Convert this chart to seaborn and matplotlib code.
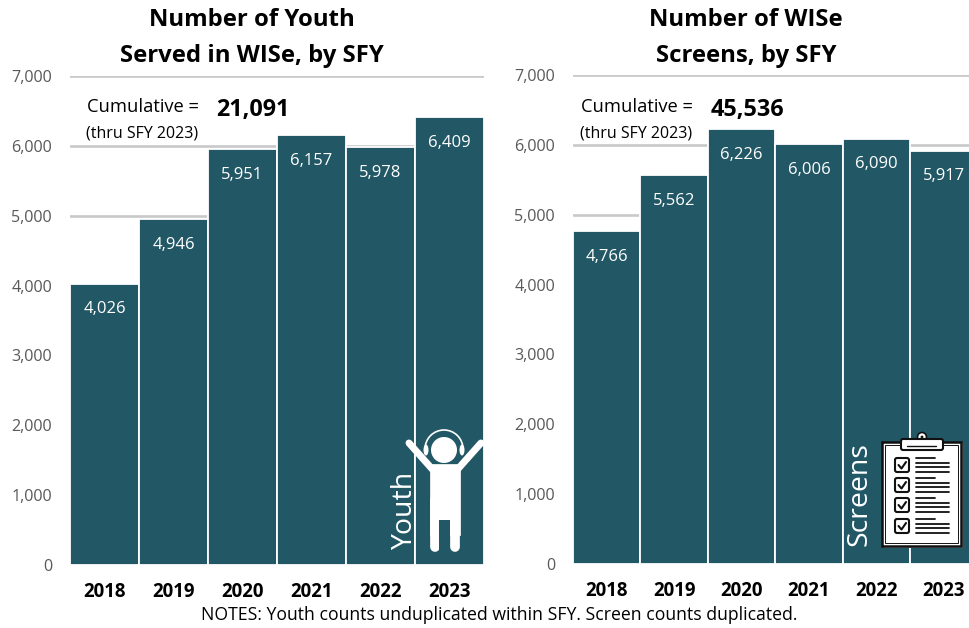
import matplotlib
matplotlib.use("Agg")
import matplotlib.pyplot as plt
import seaborn as sns
import pandas as pd
from matplotlib.patches import Rectangle, Circle, Arc, FancyBboxPatch, Polygon, Ellipse
from matplotlib.lines import Line2D

years = ["2018", "2019", "2020", "2021", "2022", "2023"]
youth = [4026, 4946, 5951, 6157, 5978, 6409]
screens = [4766, 5562, 6226, 6006, 6090, 5917]
yticks = [0, 1000, 2000, 3000, 4000, 5000, 6000, 7000]
title_left = "Number of Youth\nServed in WISe, by SFY"
title_right = "Number of WISe\nScreens, by SFY"
total_left = "21,091"
total_right = "45,536"
note = "NOTES: Youth counts unduplicated within SFY. Screen counts duplicated."

W, H = 969, 628
BAR = "#225866"
GRID = "#c9c9c9"
sns.set_theme(style="white")
plt.rcParams["font.family"] = ["Open Sans", "DejaVu Sans"]

fig = plt.figure(figsize=(W / 100, H / 100), dpi=100, facecolor="white")


def panel(x0, x1, y7, y0, values):
    ax = fig.add_axes([x0 / W, 1 - y0 / H, (x1 - x0) / W, (y0 - y7) / H])
    df = pd.DataFrame({"year": years, "value": values})
    sns.barplot(data=df, x="year", y="value", color=BAR, saturation=1, width=1,
                edgecolor="white", linewidth=1.3, ax=ax, zorder=3)
    ax.set_xlim(-0.5, 5.5)
    ax.set_ylim(0, 7000)
    ax.set_yticks(yticks, [f"{v:,}" for v in yticks], fontsize=11.6, color="#595959")
    ax.set_xlabel("")
    ax.set_ylabel("")
    ax.yaxis.grid(True, color=GRID, lw=1.9, zorder=0)
    ax.set_axisbelow(True)
    for s in ax.spines.values():
        s.set_visible(False)
    ax.tick_params(axis="y", length=0, pad=13)
    ax.tick_params(axis="x", length=0, pad=12)
    for lb in ax.get_xticklabels():
        lb.set_fontweight("bold")
        lb.set_fontsize(13.4)
        lb.set_color("black")
    for i, v in enumerate(values):
        ax.annotate(f"{v:,}", (i, v), xytext=(0, -18.5), textcoords="offset points",
                    ha="center", va="center", color="white", fontsize=12, zorder=5)
    return ax


panel(70, 484, 76, 565, youth)
panel(573, 573 + 6 * 67.4, 75, 564, screens)

ov = fig.add_axes([0, 0, 1, 1], facecolor="none")
ov.set_xlim(0, W)
ov.set_ylim(H, 0)
ov.axis("off")

# titles, cumulative notes, footer
ov.text(252, 38, title_left, ha="center", va="center", fontsize=17.2, fontweight="bold",
        color="black", linespacing=1.62)
ov.text(746, 38, title_right, ha="center", va="center", fontsize=17.2, fontweight="bold",
        color="black", linespacing=1.62)
ov.text(143, 107, "Cumulative =", ha="center", va="center", fontsize=13.2, color="black")
ov.text(142, 133, "(thru SFY 2023)", ha="center", va="center", fontsize=11.5, color="black")
ov.text(253, 110, total_left, ha="center", va="center", fontsize=16.8, fontweight="bold", color="black")
ov.text(637, 107, "Cumulative =", ha="center", va="center", fontsize=13.2, color="black")
ov.text(636, 133, "(thru SFY 2023)", ha="center", va="center", fontsize=11.5, color="black")
ov.text(747, 110, total_right, ha="center", va="center", fontsize=16.8, fontweight="bold", color="black")
ov.text(499, 615, note, ha="center", va="center", fontsize=12.7, color="black")

# rotated icon captions
ov.text(405, 550, "Youth", rotation=90, ha="center", va="bottom", fontsize=20.5, color="white", zorder=6)
ov.text(860, 546, "Screens", rotation=90, ha="center", va="bottom", fontsize=20.5, color="white", zorder=6)

# person icon
w = "white"
ov.add_line(Line2D([409, 433], [443, 470], color=w, lw=5, solid_capstyle="round", zorder=6))
ov.add_line(Line2D([481, 457], [443, 470], color=w, lw=5, solid_capstyle="round", zorder=6))
ov.add_patch(Polygon([(430, 464), (460, 464), (460, 535), (430, 535)], fc=w, ec=w, lw=0.5, zorder=6))
ov.add_line(Line2D([435, 435], [500, 547], color=w, lw=7, solid_capstyle="round", zorder=6))
ov.add_line(Line2D([455, 455], [500, 547], color=w, lw=7, solid_capstyle="round", zorder=6))
ov.add_patch(Rectangle((439.5, 520), 10.5, 36, fc=BAR, ec="none", zorder=6.5))
ov.add_patch(Circle((444, 450), 13, fc=w, ec="none", zorder=6))
ov.add_patch(Arc((444, 449), 38, 38, theta1=180, theta2=360, color=w, lw=1.2, zorder=6))
ov.add_patch(Ellipse((426, 450), 5, 11, fc=w, ec="none", zorder=6))
ov.add_patch(Ellipse((462, 450), 5, 11, fc=w, ec="none", zorder=6))

# clipboard icon
k = "#111111"
ov.add_patch(Rectangle((884, 443), 79, 105, fc="#9aa5a8", ec="none", zorder=6))
ov.add_patch(Rectangle((882, 442), 79, 104, fc="white", ec=k, lw=1.8, zorder=6.1))
ov.add_patch(Rectangle((885, 445), 73, 98, fc="white", ec=k, lw=0.7, zorder=6.15))
ov.add_patch(Circle((922, 437), 4.5, fc="white", ec=k, lw=1.2, zorder=6.2))
ov.add_patch(FancyBboxPatch((901, 439), 42, 11, boxstyle="round,pad=0,rounding_size=2", fc="white", ec=k, lw=1.5, zorder=6.3))
ov.add_patch(Circle((922, 437), 1.4, fc=k, ec="none", zorder=6.4))
ov.add_line(Line2D([907, 936], [446, 446], color=k, lw=1, zorder=6.4))
for top in [458, 478, 498, 519]:
    ov.add_patch(FancyBboxPatch((895, top), 14, 14, boxstyle="round,pad=0,rounding_size=2", fc="white", ec=k, lw=1.5, zorder=6.3))
    ov.add_line(Line2D([898.5, 901.5, 906], [top + 7, top + 10.5, top + 4], color=k, lw=1.5, zorder=6.4))
    for j, dy in enumerate([0, 4.5, 9, 14]):
        ov.add_line(Line2D([916, 935 if j == 0 else 949], [top + dy, top + dy], color=k, lw=1.3, zorder=6.4))

fig.savefig("out.png", dpi=100, facecolor="white")
